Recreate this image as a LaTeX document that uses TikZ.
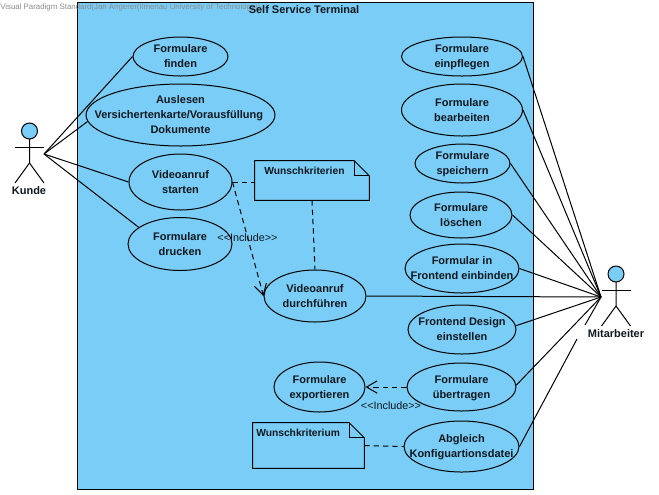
\documentclass[tikz,border=0pt]{standalone}
\usepackage{fontspec}
\setmainfont{Liberation Sans}
\usetikzlibrary{arrows.meta,calc,shapes.geometric}
\definecolor{sysblue}{RGB}{122,205,246}
\definecolor{inktext}{RGB}{16,24,32}
\tikzset{
	uc/.style n args={2}{ellipse, draw, line width=0.75pt, fill=sysblue, inner sep=-30pt, align=center, text=inktext, text depth=0pt,
		font=\bfseries\fontsize{8.25}{11.25}\selectfont, minimum width=#1*0.75pt, minimum height=#2*0.75pt},
	assoc/.style={draw=black, line width=0.75pt},
	dep/.style={draw=black, line width=0.75pt, dash pattern=on 4pt off 3pt},
	incl/.style={dep, -{Straight Barb[length=8pt,width=15pt,angle'=60]}},
	notebox/.style n args={2}{rectangle, inner sep=0pt, minimum width=#1*0.75pt, minimum height=#2*0.75pt},
	notetext/.style={inner sep=0pt, anchor=north west, text=inktext, font=\bfseries\fontsize{7.7}{9}\selectfont},
	incltext/.style={inner sep=0pt, text=inktext, font=\fontsize{8.1}{9}\selectfont},
	actortext/.style={inner sep=0pt, text=inktext, font=\bfseries\fontsize{8.25}{10}\selectfont},
}
\newcommand{\notefold}[1]{
	\draw[assoc, fill=sysblue] (#1.south west) -- (#1.north west) -- ($(#1.north east)+(-15,0)$) -- ($(#1.north east)+(0,15)$) -- (#1.south east) -- cycle;
	\draw[assoc] ($(#1.north east)+(-15,0)$) -- ($(#1.north east)+(-15,15)$) -- ($(#1.north east)+(0,15)$);
}
\newcommand{\stickman}[2]{
	\draw[assoc, fill=sysblue] (#1,#2-23) circle (8);
	\draw[assoc] (#1,#2-15) -- (#1,#2+9) -- (#1-14.5,#2+29);
	\draw[assoc] (#1,#2+9) -- (#1+14.5,#2+29);
	\draw[assoc] (#1-14.5,#2-7) -- (#1+14.5,#2-7);
}
\begin{document}
\begin{tikzpicture}[x=0.75pt,y=-0.75pt]
	\useasboundingbox (0,0) rectangle (659,494);
	\fill[white] (0,0) rectangle (659,494);
	% system
	\node[rectangle, draw, line width=0.75pt, fill=sysblue, inner sep=0pt, minimum width=456*0.75pt, minimum height=487*0.75pt] (terminal) at (305,245.5) {};
	\node[inner sep=0pt, anchor=west, text=black!45, font=\fontsize{5.9}{7}\selectfont] (stamp) at (0,7) {Visual Paradigm Standard(Jan Angerer(Ilmenau University of Technology))};
	\node[inner sep=0pt, text=inktext, font=\bfseries\fontsize{8.25}{10}\selectfont] (title) at (304,10) {Self Service Terminal};
	% actors
	\stickman{29.5}{154}
	\node[actortext] (kundelabel) at (29,191) {Kunde};
	\coordinate (kunde) at (44,154);
	\stickman{616}{297}
	\node[actortext] (mitarbeiterlabel) at (616,334) {Mitarbeiter};
	\coordinate (mitarbeiter) at (601,297);
	\coordinate (gapa) at (585,325);
	\coordinate (gapb) at (577,339);
	% left use cases
	\node[uc={95}{39}] (finden) at (180.5,56.5) {Formulare\\finden};
	\node[uc={189}{62}] (auslesen) at (180.5,115) {Auslesen\\\hspace*{-2.5pt}Versichertenkarte/Vorausf\"ullung\\Dokumente};
	\node[uc={103}{56}] (starten) at (180.5,182) {Videoanruf\\starten};
	\node[uc={104}{53}] (drucken) at (180,244) {Formulare\\drucken};
	\node[uc={102}{52}] (durchfuehren) at (315,296) {Videoanruf\\durchf\"uhren};
	\node[uc={91}{50}] (exportieren) at (319.5,387) {Formulare\\exportieren};
	% right use cases
	\node[uc={121}{39}] (einpflegen) at (462,56.5) {Formulare\\einpflegen};
	\node[uc={121}{52}] (bearbeiten) at (462,110) {Formulare\\bearbeiten};
	\node[uc={95}{39}] (speichern) at (462.5,163.5) {Formulare\\speichern};
	\node[uc={102}{46}] (loeschen) at (461,215) {Formulare\\l\"oschen};
	\node[uc={114}{49}] (frontend) at (462,268.5) {Formular in\\Frontend einbinden};
	\node[uc={108}{49}] (design) at (462,329.5) {Frontend Design\\einstellen};
	\node[uc={109}{48}] (uebertragen) at (461.5,387) {Formulare\\\"ubertragen};
	\node[uc={115}{51}] (abgleich) at (461.5,446.5) {Abgleich\\Konfiguartionsdatei};
	% notes
	\node[notebox={114}{39}] (wunsch) at (312,180.5) {};
	\notefold{wunsch}
	\node[notetext] (wunschtext) at (264,166.5) {Wunschkriterien};
	\node[notebox={111}{45}] (kriterium) at (308.5,445.5) {};
	\notefold{kriterium}
	\node[notetext] (kriteriumtext) at (256,428.5) {Wunschkriterium};
	% customer connectors
	\draw[assoc] (kunde) -- (finden.west);
	\draw[assoc] (kunde) -- (auslesen.184);
	\draw[assoc] (kunde) -- (starten.west);
	\draw[assoc] (kunde) -- (drucken.158);
	% employee connectors
	\draw[assoc] (mitarbeiter) -- (einpflegen.east);
	\draw[assoc] (mitarbeiter) -- (bearbeiten.east);
	\draw[assoc] (mitarbeiter) -- (speichern.east);
	\draw[assoc] (mitarbeiter) -- (loeschen.east);
	\draw[assoc] (mitarbeiter) -- (frontend.east);
	\draw[assoc] (mitarbeiter) -- (durchfuehren.east);
	\draw[assoc] (mitarbeiter) -- (design.4);
	\draw[assoc] (mitarbeiter) -- (uebertragen.2);
	\draw[assoc] (mitarbeiter) -- (gapa);
	\draw[assoc] (gapb) -- (abgleich.east);
	% dependencies
	\draw[dep] (starten.east) -- (wunsch.west |- starten.east);
	\draw[dep] (wunsch.south) -- (durchfuehren.north);
	\draw[dep] (kriterium.east) -- (abgleich.west);
	\draw[incl] (starten.east) -- (durchfuehren.west);
	\draw[incl] (uebertragen.west) -- (exportieren.east);
	\node[incltext] (include1) at (247.5,238) {<{}<Include>{}>};
	\node[incltext] (include2) at (391,406) {<{}<Include>{}>};
\end{tikzpicture}
\end{document}
